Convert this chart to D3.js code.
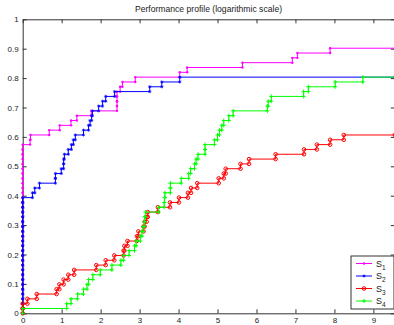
<!DOCTYPE html>
<html>
<head>
<meta charset="utf-8">
<script src="https://d3js.org/d3.v7.min.js"></script>
<style>
  body { margin: 0; background: #fff; }
  svg { display: block; font-family: "Liberation Sans", Arial, sans-serif; }
  .axis path, .axis line { stroke: #333; }
  .axis text { font-size: 8px; fill: #222; }
</style>
</head>
<body>
<script>
// number of test problems, and right end of the tau axis
const nProblems = 61;
const tauMax = 9.55;

const solverNames = ["S1", "S2", "S3", "S4"];
const solverColors = ["#ff00ff", "#0000ff", "#ff0000", "#00ff00"];
const solverMarkers = ["dot", "star", "circle", "plus"];

// sorted log ratios per solver (one entry per problem solved)
const s1Tau = [0,0,0,0,0,0,0,0,0,0, 0,0,0,0,0,0,0,0,0,0, 0,0,0,0,0,0,0,0,0,0, 0,0,0,0,0,
  0.19, 0.20, 0.68, 0.95, 1.24, 1.39, 1.76, 2.42, 2.42, 2.42, 2.42, 2.50, 2.56, 2.89,
  4.03, 4.22, 5.64, 6.92, 7.05, 7.89];
const s2Tau = [0,0,0,0,0,0,0,0,0,0, 0,0,0,0,0,0,0,0,0,0, 0,0,0,0,
  0.25, 0.31, 0.43, 0.84, 0.84, 0.99, 1.05, 1.05, 1.07, 1.17, 1.25, 1.30, 1.35, 1.56,
  1.69, 1.73, 1.77, 1.79, 1.95, 2.05, 2.13, 2.36, 3.26, 3.57, 4.03];
const s3Tau = [0, 0, 0.12, 0.36, 0.87, 0.94, 1.05, 1.17, 1.32, 1.89, 2.13, 2.35, 2.59,
  2.61, 2.69, 2.93, 2.97, 3.10, 3.13, 3.18, 3.21, 3.47, 3.78, 4.01, 4.24, 4.32, 4.48,
  5.03, 5.16, 5.21, 5.59, 5.81, 6.49, 7.22, 7.55, 7.89, 8.24];
const s4Tau = [0, 1.13, 1.24, 1.41, 1.56, 1.65, 1.69, 1.80, 1.99, 2.29, 2.52, 2.59,
  2.73, 2.87, 2.91, 3.02, 3.06, 3.09, 3.12, 3.13, 3.15, 3.49, 3.63, 3.64, 3.65, 3.79,
  3.79, 4.07, 4.26, 4.31, 4.41, 4.45, 4.50, 4.68, 4.68, 4.92, 5.00, 5.05, 5.11, 5.16,
  5.29, 5.40, 6.28, 6.30, 6.38, 7.21, 7.33, 8.02, 8.73];

const xTicks = [0, 1, 2, 3, 4, 5, 6, 7, 8, 9];
const yTicks = [0, 0.1, 0.2, 0.3, 0.4, 0.5, 0.6, 0.7, 0.8, 0.9, 1];

const width = 394, height = 325;
const plotL = 22.7, plotR = 394.8, plotT = 19.3, plotB = 313.3;

const svg = d3.select("body").append("svg")
  .attr("width", width).attr("height", height);

const x = d3.scaleLinear().domain([0, tauMax]).range([plotL, plotR]);
const y = d3.scaleLinear().domain([0, 1]).range([plotB, plotT]);

// title
svg.append("text")
  .attr("x", 208.5).attr("y", 12.3)
  .attr("text-anchor", "middle")
  .style("font-size", "8.6px").style("fill", "#222")
  .text("Performance profile (logarithmic scale)");

// axes, ticks pointing inwards like matlab
const fmt = d => (d === 0 || d === 1) ? String(d) : d3.format(".1f")(d);
svg.append("g").attr("class", "axis")
  .attr("transform", `translate(0,${plotB})`)
  .call(d3.axisBottom(x).tickValues(xTicks).tickSize(-4).tickSizeOuter(0).tickPadding(4));
svg.append("g").attr("class", "axis")
  .attr("transform", `translate(0,${plotT})`)
  .call(d3.axisTop(x).tickValues(xTicks).tickSize(-4).tickSizeOuter(0).tickFormat(""));
svg.append("g").attr("class", "axis")
  .attr("transform", `translate(${plotL},0)`)
  .call(d3.axisLeft(y).tickValues(yTicks).tickSize(-4).tickSizeOuter(0).tickPadding(4).tickFormat(fmt));
svg.append("g").attr("class", "axis")
  .attr("transform", `translate(${plotR},0)`)
  .call(d3.axisRight(y).tickValues(yTicks).tickSize(-4).tickSizeOuter(0).tickFormat(""));

// marker shapes
function drawMarker(g, type, color, cx, cy) {
  if (type === "dot") {
    g.append("circle").attr("cx", cx).attr("cy", cy).attr("r", 1.2).attr("fill", color);
  } else if (type === "circle") {
    g.append("circle").attr("cx", cx).attr("cy", cy).attr("r", 1.8)
      .attr("fill", "none").attr("stroke", color).attr("stroke-width", 1);
  } else if (type === "plus") {
    g.append("path").attr("d", `M${cx - 2},${cy}H${cx + 2}M${cx},${cy - 2}V${cy + 2}`)
      .attr("stroke", color).attr("stroke-width", 1);
  } else {
    const s = 1.1;
    g.append("path")
      .attr("d", `M${cx - 1.6},${cy}H${cx + 1.6}M${cx},${cy - 1.6}V${cy + 1.6}` +
        `M${cx - s},${cy - s}L${cx + s},${cy + s}M${cx - s},${cy + s}L${cx + s},${cy - s}`)
      .attr("stroke", color).attr("stroke-width", 0.7);
  }
}

const allTau = [s1Tau, s2Tau, s3Tau, s4Tau];
const plot = svg.append("g");

allTau.forEach((tau, si) => {
  // stair vertices: (tau_i, i/n) -> (tau_i, (i+1)/n) ...
  const verts = [[tau[0], 0]];
  tau.forEach((t, i) => {
    if (i > 0) verts.push([t, i / nProblems]);
    verts.push([t, (i + 1) / nProblems]);
  });
  verts.push([tauMax, tau.length / nProblems]);

  const g = plot.append("g");
  g.append("path")
    .attr("d", d3.line().x(d => x(d[0])).y(d => y(d[1]))(verts))
    .attr("fill", "none")
    .attr("stroke", solverColors[si])
    .attr("stroke-width", 1);
  verts.forEach(v => drawMarker(g, solverMarkers[si], solverColors[si], x(v[0]), y(v[1])));
});

// legend
const leg = svg.append("g");
leg.append("rect")
  .attr("x", 351).attr("y", 256).attr("width", 43).attr("height", 53)
  .attr("fill", "#fff").attr("stroke", "#333").attr("stroke-width", 1);
solverNames.forEach((name, i) => {
  const ly = 263.5 + i * 12.5;
  leg.append("line")
    .attr("x1", 356).attr("x2", 372).attr("y1", ly).attr("y2", ly)
    .attr("stroke", solverColors[i]).attr("stroke-width", 1);
  drawMarker(leg, solverMarkers[i], solverColors[i], 364, ly);
  const t = leg.append("text")
    .attr("x", 376).attr("y", ly + 3)
    .style("font-size", "9px").style("fill", "#222");
  t.append("tspan").text(name.charAt(0));
  t.append("tspan").attr("dy", 3).style("font-size", "6.5px").text(name.slice(1));
});
</script>
</body>
</html>
